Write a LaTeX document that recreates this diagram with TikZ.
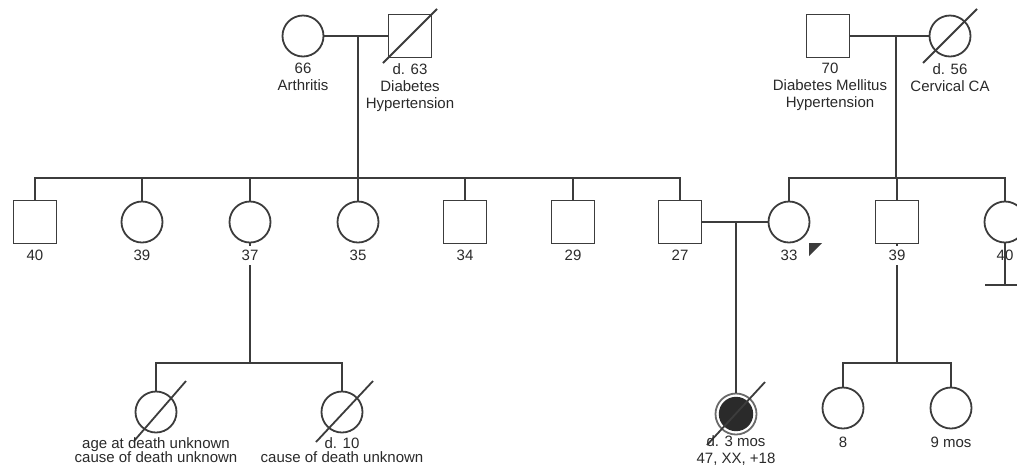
\documentclass[tikz,border=0pt]{standalone}
\usepackage{fontspec}
\setmainfont{Liberation Sans}
\definecolor{lc}{HTML}{3C3C3C}
\definecolor{tc}{HTML}{2A2A2A}
\definecolor{dk}{HTML}{2A2A2A}
\definecolor{rg}{HTML}{6A6A6A}
\begin{document}
\begin{tikzpicture}[x=1pt,y=-1pt]
\tikzset{
  ind/.style={draw=lc, line width=1.8pt, inner sep=0pt, fill=white},
  male/.style={ind, rectangle, minimum size=43pt},
  female/.style={ind, circle, minimum size=41pt},
  lbl/.style={font=\fontsize{15}{17}\selectfont, align=center, inner sep=0pt, anchor=north, text=tc},
  clbl/.style={lbl, fill=white, inner ysep=4pt},
  blbl/.style={font=\fontsize{15}{14.5}\selectfont, align=center, inner sep=0pt, anchor=north, text=tc},
  conn/.style={draw=lc, line width=1.8pt},
  dslash/.style={draw=lc, line width=1.8pt}
}
\fill[white] (0,0) rectangle (1017,467);
\useasboundingbox (0,0) rectangle (1017,467);

% generation I
\node[female] (gm1) at (303,36) {};
\node[male]   (gf1) at (410,36) {};
\node[male]   (gf2) at (828,36) {};
\node[female] (gm2) at (950,36) {};

% generation II
\node[male]   (c40) at (35,222) {};
\node[female] (c39) at (142,222) {};
\node[female] (c37) at (250,222) {};
\node[female] (c35) at (358,222) {};
\node[male]   (c34) at (465,222) {};
\node[male]   (c29) at (573,222) {};
\node[male]   (c27) at (680,222) {};
\node[female] (w33) at (789,222) {};
\node[male]   (s39) at (897,222) {};
\node[female] (w40) at (1005,222) {};

% generation III
\node[female] (b1) at (156,412) {};
\node[female] (b2) at (342,412) {};
\node[female, draw=rg] (ch) at (736,414) {};
\fill[dk] (ch.center) circle[radius=17.2];
\node[female] (r8) at (843,408) {};
\node[female] (r9) at (951,408) {};

% coordinates
\coordinate (d1) at (358,36);
\coordinate (sibL) at (358,178);
\coordinate (d2) at (896,36);
\coordinate (sibR) at (896,178);
\coordinate (m1) at (736,222);
\coordinate (sibB1) at (250,363);
\coordinate (sibB2) at (897,363);
\coordinate (nc) at (1005,285);

% connectors
\draw[conn] (gm1.east) -- (gf1.west);
\draw[conn] (d1) -- (sibL);
\draw[conn] (c40.north) |- (sibL) -| (c27.north);
\foreach \n in {c39,c37,c35,c34,c29} \draw[conn] (\n.north) -- (\n.north |- sibL);

\draw[conn] (gf2.east) -- (gm2.west);
\draw[conn] (d2) -- (sibR);
\draw[conn] (w33.north) |- (sibR) -| (w40.north);
\draw[conn] (s39.north) -- (s39.north |- sibR);

\draw[conn] (c27.east) -- (w33.west);
\draw[conn] (m1) -- (ch.north);

\draw[conn] (c37.south) -- (sibB1);
\draw[conn] (b1.north) |- (sibB1) -| (b2.north);

\draw[conn] (s39.south) -- (sibB2);
\draw[conn] (r8.north) |- (sibB2) -| (r9.north);

% deceased slashes
\draw[dslash] ([shift={(-27,27)}]gf1.center) -- ([shift={(27,-27)}]gf1.center);
\draw[dslash] ([shift={(-27,27)}]gm2.center) -- ([shift={(27,-27)}]gm2.center);
\draw[dslash] ([shift={(-22,29)}]b1.center) -- ([shift={(30,-31)}]b1.center);
\draw[dslash] ([shift={(-26,30)}]b2.center) -- ([shift={(31,-31)}]b2.center);
\draw[dslash] ([shift={(-29,31)}]ch.center) -- ([shift={(29,-32)}]ch.center);

% proband marker
\fill[lc] ([shift={(20,21)}]w33.center) -- ([shift={(33,21)}]w33.center) -- ([shift={(20,34)}]w33.center) -- cycle;

% labels
\node[lbl] (lgm1) at (303,63) {66\\Arthritis};
\node[lbl] (lgf1) at (410,63) {d. 63\\Diabetes\\Hypertension};
\node[lbl] (lgf2) at (830,63) {70\\Diabetes Mellitus\\Hypertension};
\node[lbl] (lgm2) at (950,63) {d. 56\\Cervical CA};

\node[clbl] (l40) at (35,246) {40};
\node[clbl] (l39) at (142,246) {39};
\node[clbl] (l37) at (250,246) {37};
\node[clbl] (l35) at (358,246) {35};
\node[clbl] (l34) at (465,246) {34};
\node[clbl] (l29) at (573,246) {29};
\node[clbl] (l27) at (680,246) {27};
\node[clbl] (l33) at (789,246) {33};
\node[clbl] (ls39) at (897,246) {39};
\node[lbl] (lw40) at (1005,250) {40};
\draw[conn] (w40.south) -- (nc);
\draw[conn] ([xshift=-20pt]nc) -- ([xshift=20pt]nc);

\node[blbl] (lb1) at (156,437) {age at death unknown\\cause of death unknown};
\node[blbl] (lb2) at (342,437) {d. 10\\cause of death unknown};
\node[lbl] (lch) at (736,435) {d. 3 mos\\47, XX, +18};
\node[lbl] (lr8) at (843,437) {8};
\node[lbl] (lr9) at (951,437) {9 mos};
\end{tikzpicture}
\end{document}
